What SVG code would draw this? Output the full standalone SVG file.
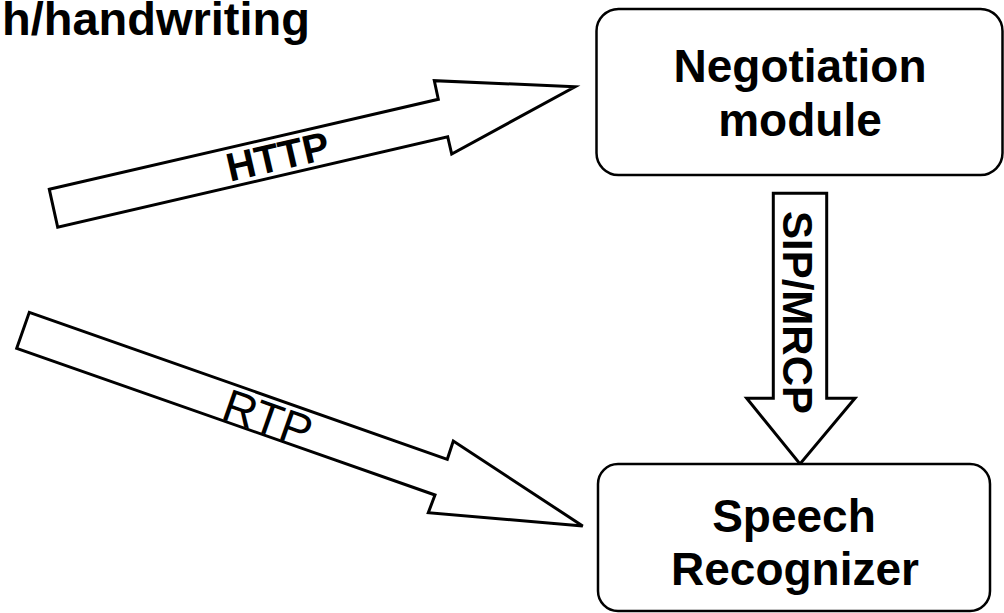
<svg xmlns="http://www.w3.org/2000/svg" width="1004" height="613" viewBox="0 0 1004 613">
  <style>
    .box { fill: #ffffff; stroke: #000000; stroke-width: 2.5; }
    .arrow { fill: #ffffff; stroke: #000000; stroke-width: 3; stroke-linejoin: miter; }
    .lbl { font-family: "Liberation Sans", Arial, sans-serif; fill: #000000; }
    .b { font-weight: bold; }
  </style>
  <rect x="0" y="0" width="1004" height="613" fill="#ffffff"/>
  <text id="title" class="lbl b" x="310" y="35" font-size="47" text-anchor="end">h/handwriting</text>
  <g id="connectors">
    <g id="edge-http">
      <polygon class="arrow" points="49.3,189.3 438.3,99.3 434.3,80.7 575,86.7 451.7,154 447.7,136.7 57.7,227.3"/>
      <text class="lbl b" font-size="40" text-anchor="middle" transform="translate(280.9,170) rotate(-13)">HTTP</text>
    </g>
    <g id="edge-rtp">
      <polygon class="arrow" points="29.3,312.3 447.3,459.3 453.3,441 582.7,526 428.3,512.7 435,495 16.7,348.3"/>
      <text class="lbl" font-size="46" text-anchor="middle" transform="translate(262.5,433.3) rotate(19.37)">RTP</text>
    </g>
    <g id="edge-sip">
      <polygon class="arrow" points="773.3,193.3 826.7,193.3 826.7,398.3 855,398.3 800,464 746.7,398.3 773.3,398.3"/>
      <text class="lbl b" font-size="42" text-anchor="middle" transform="translate(783,312.5) rotate(90)">SIP/MRCP</text>
    </g>
  </g>
  <g id="node-negotiation">
    <rect class="box" x="596.5" y="9" width="406" height="166" rx="22" ry="22"/>
    <text class="lbl b" x="800" y="82" font-size="46" text-anchor="middle">Negotiation</text>
    <text class="lbl b" x="800" y="136" font-size="46" text-anchor="middle">module</text>
  </g>
  <g id="node-recognizer">
    <rect class="box" x="598" y="464" width="392" height="147" rx="20" ry="20"/>
    <text class="lbl b" x="794" y="532" font-size="46" text-anchor="middle">Speech</text>
    <text class="lbl b" x="795" y="585" font-size="46" text-anchor="middle">Recognizer</text>
  </g>
</svg>
